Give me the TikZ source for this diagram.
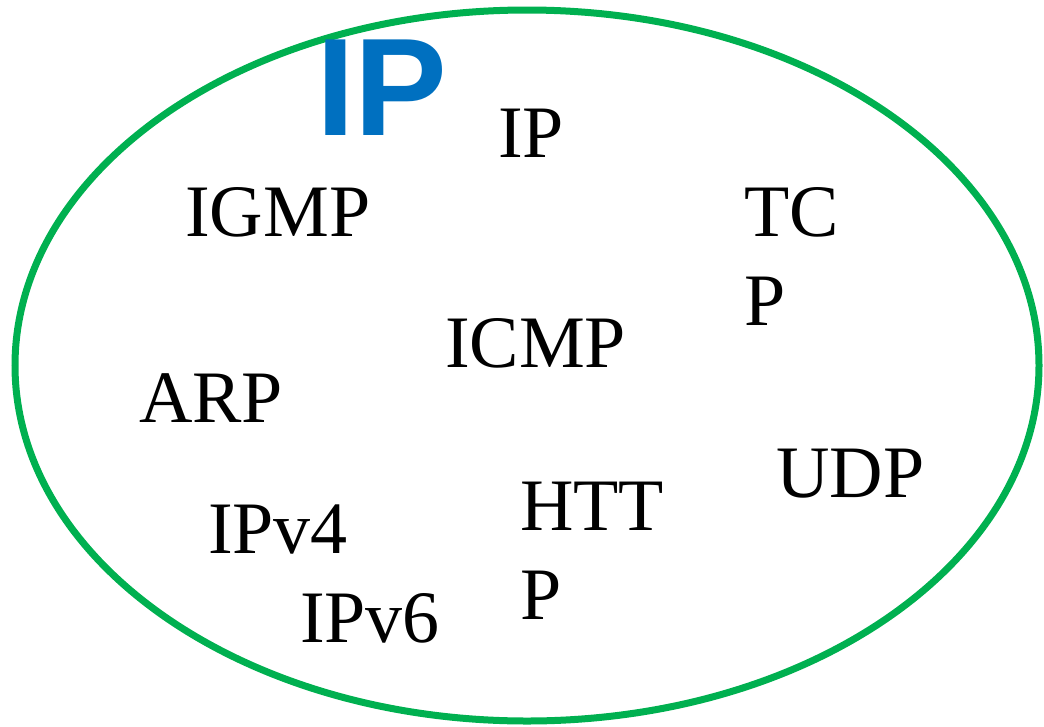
\documentclass[tikz,border=0pt]{standalone}
\usepackage{fontspec}
\setmainfont{Liberation Serif}
\newfontfamily\arialfont{Liberation Sans}
\definecolor{ringgreen}{RGB}{0,176,80}
\definecolor{ipblue}{RGB}{0,112,192}
\begin{document}
\begin{tikzpicture}[x=1pt,y=-1pt,
  lbl/.style={anchor=base west,inner sep=0pt,font=\fontsize{74}{89}\selectfont,align=left},
  title/.style={anchor=base west,inner sep=0pt,text=ipblue,font=\arialfont\bfseries\fontsize{139}{139}\selectfont}]
\useasboundingbox (0,0) rectangle (1044,726);
\draw[ringgreen,line width=7pt] (527,365.5) ellipse [x radius=512,y radius=355.5];
\node[title] (big) at (316,135) {IP};
\node[lbl] (ip) at (498,157) {IP};
\node[lbl] (igmp) at (185,236) {IGMP};
\node[lbl] (tcp) at (744,325) {TC\\P};
\node[lbl] (icmp) at (445,367) {ICMP};
\node[lbl] (arp) at (139,422) {ARP};
\node[lbl] (udp) at (776,497) {UDP};
\node[lbl] (http) at (520,619) {HTT\\P};
\node[lbl] (ipv4) at (208,553) {IPv4};
\node[lbl] (ipv6) at (300,642) {IPv6};
\end{tikzpicture}
\end{document}
